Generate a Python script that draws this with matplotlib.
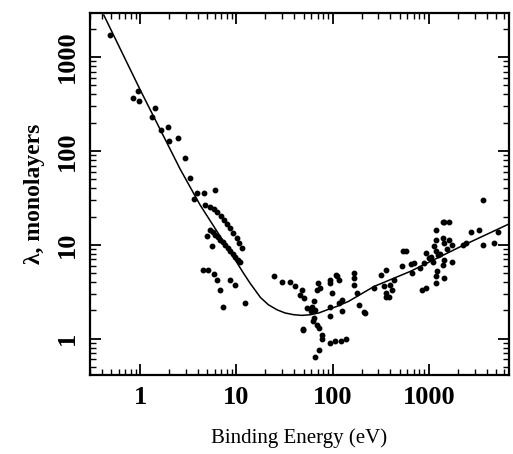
import matplotlib.pyplot as plt
from matplotlib.ticker import LogLocator, NullFormatter, FixedLocator

# Universal curve (energy in eV, lambda in monolayers)
curve_e = [0.42, 1.0, 2.61, 4.21, 6.8, 10.2, 12.0, 13.9, 17.8, 21.5, 26.5,
           32.0, 39.5, 48.0, 59.0, 72.0, 88.0, 110.0, 147.0, 270.0, 640.0,
           2150.0, 7100.0]
curve_l = [2800, 450, 64, 26.5, 12.3, 6.4, 4.9, 3.9, 2.75, 2.3, 2.03,
           1.88, 1.8, 1.77, 1.8, 1.88, 2.03, 2.2, 2.5, 3.6, 5.2,
           9.6, 17.0]

# Measured points
data_e = [0.49, 0.95, 0.85, 0.97, 1.43, 1.34, 1.64, 1.93, 1.99, 2.45, 2.92,
          3.3, 3.9, 4.6, 6.0, 3.6,
          # upper band
          4.76, 5.35, 5.8, 6.3, 6.9, 7.4, 8.0, 8.66, 9.3, 10.1, 10.7, 11.4,
          # lower band
          5.35, 5.7, 6.04, 6.4, 6.8, 7.2, 7.7, 8.2, 8.66, 9.2, 9.75, 10.4, 11.0,
          4.95, 5.6, 4.55, 5.1, 5.8, 6.3, 8.5, 9.8, 6.8, 7.2, 12.4,
          24.9, 29.9, 36, 41, 48, 46, 50, 70, 74, 69, 64, 61, 54, 66, 59, 64,
          63, 69, 72, 78, 78, 49, 95, 107, 121, 137, 72, 66, 95, 95, 111, 116,
          99, 126, 116, 95, 95, 126, 108, 166, 166, 166, 180, 211, 49,
          188, 215, 320, 360, 342, 360, 360, 400, 418, 435, 530, 575, 650,
          670, 270, 540, 385,
          1190, 1440, 1630, 1190, 1390, 1440, 1630, 1750, 1120, 1190, 930,
          1050, 1100, 1440, 1390, 890, 820, 700, 1230, 1190, 1440, 1190, 930,
          860, 1750, 2720, 3300, 3700, 4800, 5200, 2250, 3700, 1420, 2410,
          1000, 1300, 1550, 1250]
data_l = [1700, 440, 370, 340, 290, 232, 167, 178, 129, 137, 85,
          51, 36, 36, 38, 31,
          26.6, 25.5, 24.2, 22.6, 20.5, 18.5, 16.8, 15.1, 13.4, 11.8, 10.5, 9.2,
          14.4, 13.6, 12.8, 12.0, 11.3, 10.6, 10.0, 9.2, 8.5, 7.9, 7.4, 6.9, 6.5,
          12.3, 9.8, 5.4, 5.4, 4.9, 4.2, 4.2, 3.75, 3.3, 2.2, 2.4,
          4.6, 4.0, 4.0, 3.6, 3.3, 2.9, 2.7, 3.9, 3.5, 3.3, 2.5, 2.2, 2.1, 2.0,
          1.95, 1.66, 1.53, 1.41, 1.3, 1.1, 1.0, 1.27, 0.9, 0.94, 0.94, 0.98,
          0.76, 0.63, 4.2, 3.9, 4.6, 4.2, 3.1, 2.6, 2.4, 2.2, 1.73, 1.95, 4.8,
          5.0, 4.4, 3.75, 3.06, 1.92, 1.25,
          2.3, 1.9, 4.8, 5.4, 3.6, 3.06, 2.77, 3.75, 3.3, 4.17, 5.9, 8.5, 6.3,
          5.0, 3.5, 8.5, 2.8,
          14.4, 17.3, 17.7, 11.3, 11.7, 10.4, 11.3, 10.0, 9.6, 8.5, 8.2,
          7.5, 6.6, 6.9, 6.1, 6.4, 5.6, 6.4, 5.2, 4.6, 4.4, 3.9, 3.45,
          3.3, 6.6, 13.8, 14.4, 10.0, 10.4, 13.8, 10.0, 30.0, 17.3, 10.4,
          7.2, 8.0, 9.0, 7.8]

x_ticks = [1, 10, 100, 1000]
x_labels = ["1", "10", "100", "1000"]
y_ticks = [1, 10, 100, 1000]
y_labels = ["1", "10", "100", "1000"]

plt.rcParams["font.family"] = ["Liberation Serif", "DejaVu Serif"]

fig = plt.figure(figsize=(5.13, 4.54), dpi=100)
ax = fig.add_axes([0.175, 0.174, 0.817, 0.797])

ax.plot(curve_e, curve_l, color="black", linewidth=1.1, zorder=2)
ax.plot(data_e, data_l, linestyle="none", marker="o", markersize=3.2,
        color="black", zorder=3)

ax.set_xscale("log")
ax.set_yscale("log")
ax.set_xlim(0.30, 6800)
ax.set_ylim(0.41, 2940)

ax.xaxis.set_major_locator(FixedLocator(x_ticks))
ax.set_xticklabels(x_labels, fontsize=19, fontweight="bold")
ax.yaxis.set_major_locator(FixedLocator(y_ticks))
ax.set_yticklabels(y_labels, fontsize=19, fontweight="bold", rotation=90,
                   va="center")
ax.xaxis.set_minor_locator(LogLocator(base=10, subs=range(2, 10), numticks=20))
ax.yaxis.set_minor_locator(LogLocator(base=10, subs=range(2, 10), numticks=20))
ax.xaxis.set_minor_formatter(NullFormatter())
ax.yaxis.set_minor_formatter(NullFormatter())

ax.tick_params(which="major", direction="in", length=8, width=1.3,
               top=True, right=True, pad=8)
ax.tick_params(which="minor", direction="in", length=4, width=1.0,
               top=True, right=True)
for s in ax.spines.values():
    s.set_linewidth(1.6)

ax.set_xlabel("Binding Energy (eV)", fontsize=15, labelpad=14)
ax.set_ylabel("λ, monolayers", fontsize=17, fontweight="bold", labelpad=8)

fig.savefig("out.png", dpi=100)
